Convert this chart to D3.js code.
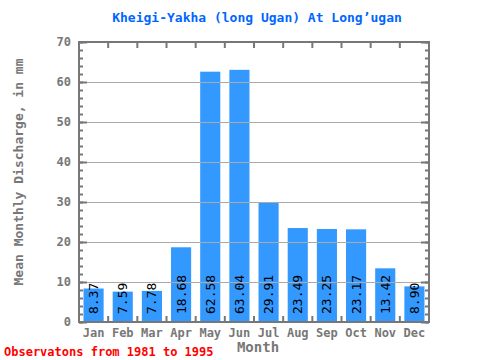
<!DOCTYPE html>
<html>
<head>
<meta charset="utf-8">
<script src="https://cdn.jsdelivr.net/npm/d3@7"></script>
<style>
  body { margin: 0; background: #fff; }
  text { font-family: "DejaVu Sans Mono", "Liberation Mono", monospace; }
</style>
</head>
<body>
<svg id="chart" width="480" height="360"></svg>
<script>
const months = ["Jan","Feb","Mar","Apr","May","Jun","Jul","Aug","Sep","Oct","Nov","Dec"]
const discharge = [8.37, 7.59, 7.78, 18.68, 62.58, 63.04, 29.91, 23.49, 23.25, 23.17, 13.42, 8.90]
const yTicks = [0, 10, 20, 30, 40, 50, 60, 70]

const svg = d3.select("#chart")
const plotLeft = 79, plotRight = 429, plotTop = 42, plotBottom = 322
const grey = "#777"

const x = d3.scaleBand().domain(months).range([plotLeft, plotRight]).paddingInner(0.31).paddingOuter(0.155)
const y = d3.scaleLinear().domain([0, 70]).range([plotBottom, plotTop])

// bars
svg.append("g")
    .selectAll("rect")
    .data(discharge)
    .enter()
    .append("rect")
    .attr("x", (d, i) => x(months[i]))
    .attr("y", d => y(d))
    .attr("width", x.bandwidth())
    .attr("height", d => plotBottom - y(d))
    .attr("fill", "#3399ff")

// grid lines drawn over the bars
svg.append("g")
    .selectAll("line")
    .data(yTicks.filter(t => t > 0 && t < 70))
    .enter()
    .append("line")
    .attr("x1", plotLeft).attr("x2", plotRight)
    .attr("y1", d => y(d) + 0.5).attr("y2", d => y(d) + 0.5)
    .attr("stroke", "#aaa")

// value labels
svg.append("g")
    .selectAll("text")
    .data(discharge)
    .enter()
    .append("text")
    .attr("transform", (d, i) => `translate(${x(months[i]) + x.bandwidth() / 2 + 4.5},${plotBottom - 8}) rotate(-90)`)
    .style("font-size", "13px")
    .attr("fill", "#000")
    .text(d => d.toFixed(2))

// minor ticks every 2, major every 10, pointing inwards
const minor = d3.range(0, 71, 2)
const gl = svg.append("g").attr("transform", `translate(${plotLeft},0)`)
    .call(d3.axisLeft(y).tickValues(minor).tickSize(-4).tickFormat(""))
const gr = svg.append("g").attr("transform", `translate(${plotRight},0)`)
    .call(d3.axisRight(y).tickValues(minor).tickSize(-4).tickFormat(""))
gl.append("g").call(d3.axisLeft(y).tickValues(yTicks).tickSize(-8).tickFormat(""))
gr.append("g").call(d3.axisRight(y).tickValues(yTicks).tickSize(-8).tickFormat(""))
svg.selectAll(".domain").remove()
svg.selectAll(".tick line").attr("stroke", grey).attr("stroke-width", 2)

// month boundary ticks top and bottom
const bounds = months.slice(1).map(m => x(m) - x.step() * x.paddingInner() / 2)
svg.append("g").selectAll("line").data(bounds).enter().append("line")
    .attr("x1", d => d).attr("x2", d => d)
    .attr("y1", plotTop).attr("y2", plotTop + 6)
    .attr("stroke", grey).attr("stroke-width", 2)
svg.append("g").selectAll("line").data(bounds).enter().append("line")
    .attr("x1", d => d).attr("x2", d => d)
    .attr("y1", plotBottom).attr("y2", plotBottom - 6)
    .attr("stroke", grey).attr("stroke-width", 2)

// frame
svg.append("rect")
    .attr("x", plotLeft).attr("y", plotTop)
    .attr("width", plotRight - plotLeft).attr("height", plotBottom - plotTop)
    .attr("fill", "none").attr("stroke", grey).attr("stroke-width", 2)

// y tick labels
svg.append("g").selectAll("text").data(yTicks).enter().append("text")
    .attr("x", plotLeft - 8).attr("y", d => y(d) + 4)
    .attr("text-anchor", "end")
    .style("font-size", "12px").style("font-weight", "bold")
    .attr("fill", grey)
    .text(d => d)

// month labels
svg.append("g").selectAll("text").data(months).enter().append("text")
    .attr("x", d => x(d) + x.bandwidth() / 2).attr("y", 337)
    .attr("text-anchor", "middle")
    .style("font-size", "12px").style("font-weight", "bold")
    .attr("fill", grey)
    .text(d => d)

svg.append("text")
    .attr("x", 257).attr("y", 22)
    .attr("text-anchor", "middle")
    .style("font-size", "13px").style("font-weight", "bold")
    .attr("fill", "#0066ff")
    .text("Kheigi-Yakha (long Ugan) At Long’ugan")

svg.append("text")
    .attr("transform", "translate(23,172) rotate(-90)")
    .attr("text-anchor", "middle")
    .style("font-size", "13px").style("font-weight", "bold")
    .attr("fill", grey)
    .text("Mean Monthly Discharge, in mm")

svg.append("text")
    .attr("x", 258).attr("y", 352)
    .attr("text-anchor", "middle")
    .style("font-size", "14px").style("font-weight", "bold")
    .attr("fill", grey)
    .text("Month")

svg.append("text")
    .attr("x", 4).attr("y", 356)
    .style("font-size", "12px").style("font-weight", "bold")
    .attr("fill", "#ff0000")
    .text("Observatons from 1981 to 1995")
</script>
</body>
</html>
